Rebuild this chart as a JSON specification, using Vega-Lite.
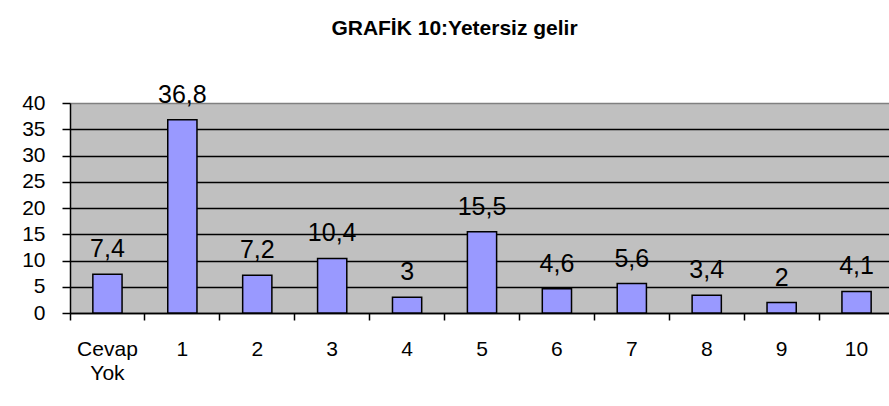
{
  "$schema": "https://vega.github.io/schema/vega-lite/v6.json",
  "autosize": {"type": "none"},
  "width": 819,
  "height": 210,
  "padding": {"left": 70, "top": 103, "right": 0, "bottom": 93},
  "background": "white",
  "title": {
    "text": "GRAFİK 10:Yetersiz gelir",
    "font": "Liberation Sans",
    "fontSize": 21,
    "fontWeight": "bold",
    "color": "black",
    "anchor": "middle",
    "dx": -25,
    "offset": 44
  },
  "data": {
    "values": [
      {"kategori": "Cevap Yok", "deger": 7.4, "etiket": "7,4"},
      {"kategori": "1", "deger": 36.8, "etiket": "36,8"},
      {"kategori": "2", "deger": 7.2, "etiket": "7,2"},
      {"kategori": "3", "deger": 10.4, "etiket": "10,4"},
      {"kategori": "4", "deger": 3, "etiket": "3"},
      {"kategori": "5", "deger": 15.5, "etiket": "15,5"},
      {"kategori": "6", "deger": 4.6, "etiket": "4,6"},
      {"kategori": "7", "deger": 5.6, "etiket": "5,6"},
      {"kategori": "8", "deger": 3.4, "etiket": "3,4"},
      {"kategori": "9", "deger": 2, "etiket": "2"},
      {"kategori": "10", "deger": 4.1, "etiket": "4,1"}
    ]
  },
  "encoding": {
    "x": {
      "field": "kategori",
      "type": "nominal",
      "sort": null,
      "scale": {"paddingInner": 0, "paddingOuter": 0, "range": [0, 824]},
      "axis": {
        "title": null,
        "labelAngle": 0,
        "bandPosition": 0,
        "labelFont": "Liberation Sans",
        "labelFontSize": 21,
        "labelColor": "black",
        "labelPadding": 18,
        "labelLineHeight": 24,
        "labelExpr": "datum.value == 'Cevap Yok' ? ['Cevap', 'Yok'] : datum.label",
        "tickSize": 7,
        "tickColor": "black",
        "tickWidth": 1.5,
        "domainColor": "black",
        "domainWidth": 1.5,
        "grid": false
      }
    },
    "y": {
      "field": "deger",
      "type": "quantitative",
      "scale": {"domain": [0, 40], "nice": false},
      "axis": {
        "title": null,
        "values": [0, 5, 10, 15, 20, 25, 30, 35, 40],
        "labelFont": "Liberation Sans",
        "labelFontSize": 21,
        "labelColor": "black",
        "labelPadding": 17,
        "tickSize": 8,
        "tickColor": "black",
        "tickWidth": 1.5,
        "domainColor": "black",
        "domainWidth": 1.5,
        "grid": true,
        "gridColor": {"condition": {"test": "datum.value == 40", "value": "#808080"}, "value": "black"},
        "gridWidth": 1.5,
        "gridOpacity": 1
      }
    }
  },
  "layer": [
    {
      "mark": {"type": "bar", "width": {"band": 0.39}, "fill": "#9999FF", "stroke": "black", "strokeWidth": 1.5}
    },
    {
      "mark": {"type": "text", "font": "Liberation Sans", "fontSize": 25, "color": "black", "baseline": "alphabetic", "dy": -17},
      "encoding": {"text": {"field": "etiket", "type": "nominal"}}
    }
  ],
  "config": {
    "view": {"fill": "#C0C0C0", "stroke": null}
  }
}
